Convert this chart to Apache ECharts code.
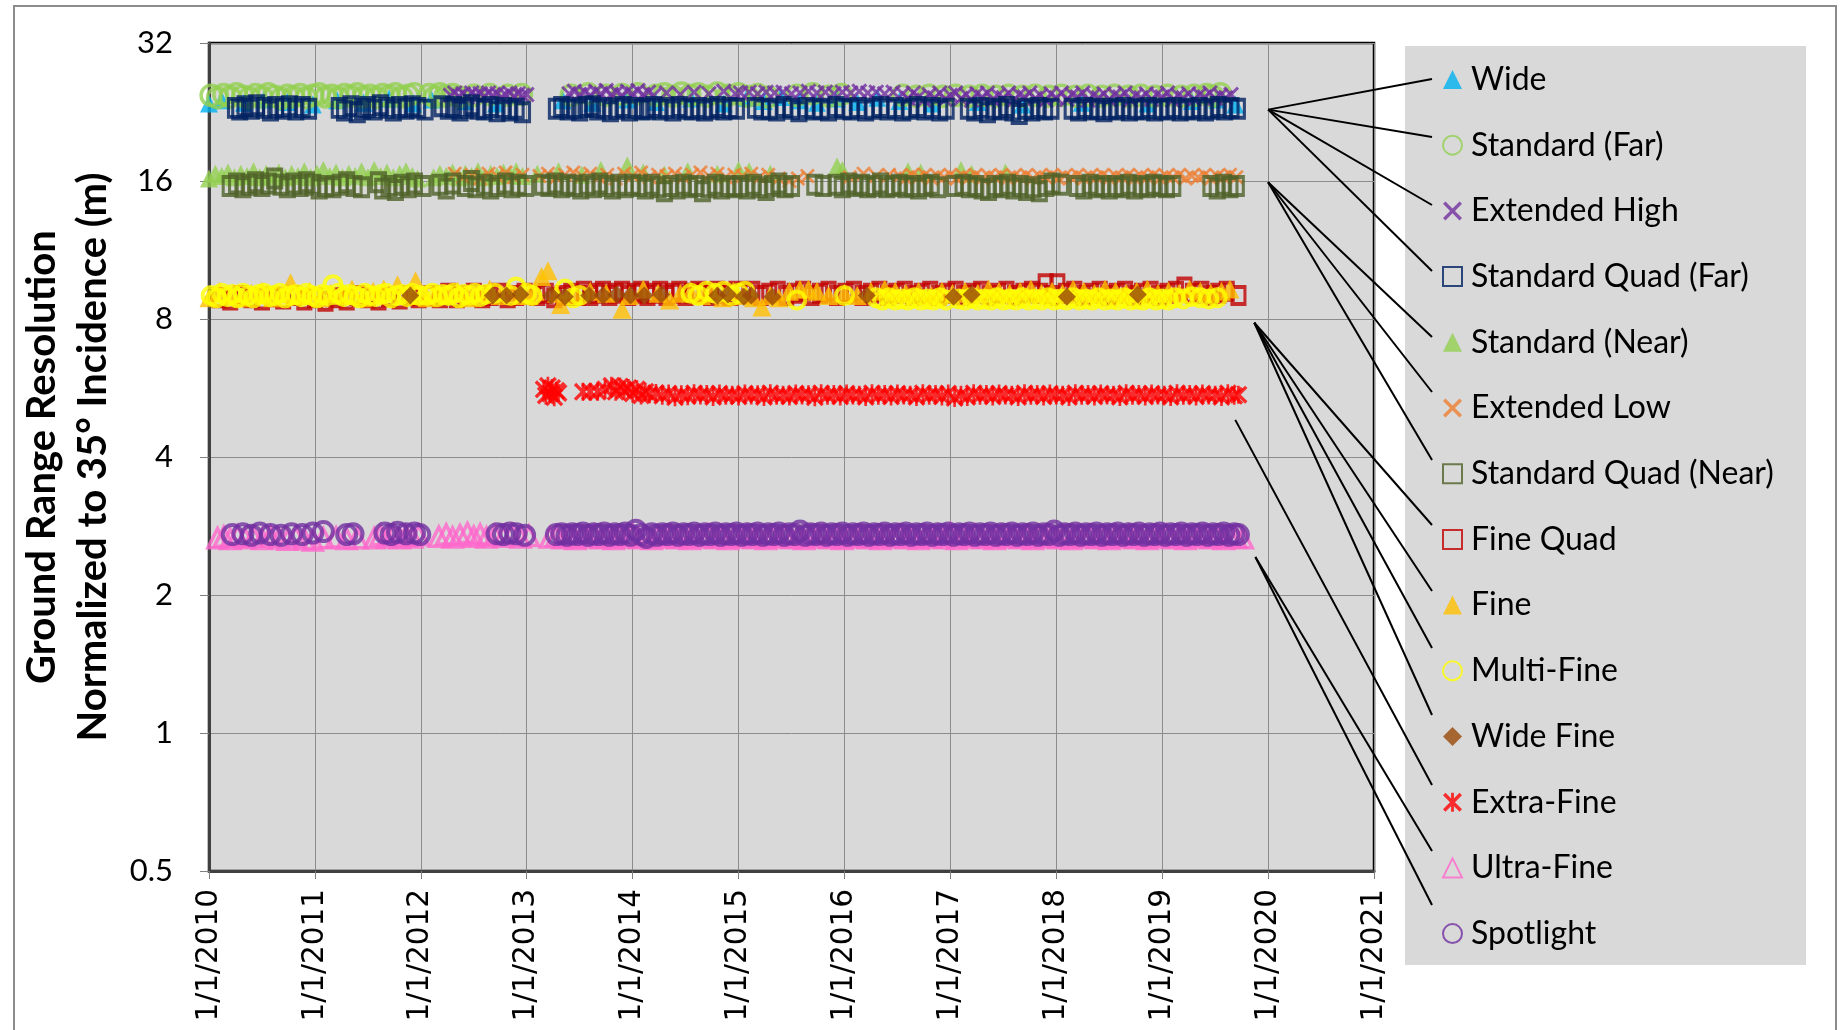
<!DOCTYPE html>
<html>
<head>
<meta charset="utf-8">
<title>Ground range resolution by beam mode</title>
<script src="https://cdn.jsdelivr.net/npm/echarts@6/dist/echarts.min.js"></script>
<style>
  html, body { margin: 0; padding: 0; background: #fff; }
  #chart { width: 1845px; height: 1030px; }
</style>
</head>
<body>
<div id="chart"></div>
<script>
// [decimal year, resolution (m)]
const wide = [[2010.00,23.6],[2010.12,24.0],[2010.33,23.7],[2010.52,24.1],[2010.74,23.8],[2010.98,23.5],[2011.21,24.0],[2011.46,23.7],[2011.70,24.2],[2011.93,23.6],[2012.10,24.1],[2012.42,23.9],[2012.71,23.6],[2013.34,24.0],[2013.62,23.7],[2013.95,24.1],[2014.22,23.8],[2014.55,24.2],[2014.86,23.6],[2015.08,24.3],[2015.24,23.9],[2015.40,24.4],[2015.58,24.0],[2015.74,23.7],[2015.93,24.2],[2016.12,23.8],[2016.31,24.3],[2016.52,23.9],[2016.83,23.6],[2017.26,23.8],[2017.68,23.5],[2018.24,23.7],[2018.86,23.6],[2019.28,23.9],[2019.52,24.1],[2019.69,23.5]]

const standardFar = [[2010.02,24.6],[2010.08,24.3],[2010.14,24.7],[2010.20,24.4],[2010.26,24.8],[2010.32,24.5],[2010.38,24.3],[2010.44,24.7],[2010.50,24.4],[2010.56,24.8],[2010.62,24.5],[2010.68,24.2],[2010.74,24.6],[2010.80,24.4],[2010.86,24.7],[2010.92,24.3],[2010.98,24.6],[2011.04,24.8],[2011.10,24.4],[2011.16,24.6],[2011.22,24.3],[2011.28,24.7],[2011.34,24.5],[2011.40,24.8],[2011.46,24.4],[2011.52,24.6],[2011.58,24.3],[2011.64,24.7],[2011.70,24.5],[2011.76,24.8],[2011.82,24.4],[2011.88,24.6],[2011.94,24.8],
  [2012.08,24.7],[2012.13,24.4],[2012.18,24.8],[2012.23,24.5],[2012.30,24.7],[2012.36,24.4],[2012.50,24.6],[2012.65,24.7],[2012.82,24.6],[2012.95,24.7],
  [2013.42,24.6],[2013.58,24.8],[2013.75,24.6],[2013.90,24.7],[2014.05,24.8],[2014.22,24.6],[2014.30,24.8],[2014.38,24.5],[2014.46,24.9],[2014.54,24.6],[2014.62,24.8],[2014.70,24.5],[2014.80,24.9],[2014.90,24.6],[2015.00,24.8],[2015.08,24.5],[2015.18,24.7],[2015.28,24.4],[2015.55,24.6],[2015.70,24.8],[2015.85,24.5],[2015.97,24.7],
  [2016.55,24.6],[2016.68,24.5],[2016.80,24.6],[2016.93,24.5],[2017.05,24.6],[2017.18,24.5],[2017.30,24.6],[2017.43,24.5],[2017.55,24.6],[2017.68,24.5],[2017.80,24.6],[2017.93,24.5],[2018.05,24.6],[2018.18,24.5],[2018.30,24.6],[2018.43,24.5],[2018.55,24.6],[2018.68,24.5],[2018.80,24.6],[2018.93,24.5],[2019.05,24.6],[2019.18,24.5],[2019.30,24.6],[2019.42,24.7],[2019.48,24.5],[2019.55,24.8]]

const extendedHigh = [[2012.28,24.6],[2012.32,24.9],[2012.36,24.5],[2012.40,24.8],[2012.44,24.4],[2012.48,24.9],[2012.52,24.6],[2012.56,24.8],[2012.60,24.5],[2012.64,24.9],[2012.68,24.6],[2012.72,24.8],[2012.76,24.4],[2012.80,24.7],[2012.84,24.9],[2012.88,24.5],[2012.92,24.8],[2012.96,24.6],[2013.00,24.7],
  [2013.40,24.8],[2013.45,25.1],[2013.50,24.7],[2013.55,25.0],[2013.60,24.6],[2013.65,25.1],[2013.70,24.8],[2013.75,25.2],[2013.80,24.7],[2013.85,25.0],[2013.90,24.6],[2013.95,25.1],[2014.00,24.8],[2014.05,25.2],[2014.10,24.7],[2014.15,25.0],[2014.20,24.6],
  [2014.32,24.9],[2014.45,24.7],[2014.58,25.0],[2014.72,24.8],[2014.86,25.1],[2014.97,24.8],
  [2015.02,24.9],[2015.10,25.0],[2015.18,24.8],[2015.26,25.0],[2015.34,24.9],[2015.42,25.0],[2015.50,24.8],[2015.58,24.9],[2015.66,25.1],[2015.74,24.9],[2015.82,25.0],[2015.90,24.8],[2015.98,25.0],[2016.06,24.9],[2016.14,25.1],[2016.22,24.9],[2016.30,25.0],[2016.38,24.8],[2016.46,25.0],
  [2016.55,24.8],[2016.60,24.2],[2016.65,24.9],[2016.70,24.4],[2016.75,24.0],[2016.80,24.7],[2016.85,24.3],[2016.90,24.9],[2016.95,24.1],[2017.00,24.6],[2017.05,24.9],[2017.10,24.2],[2017.15,24.7],[2017.20,24.0],[2017.25,24.8],[2017.30,24.4],[2017.35,24.9],[2017.40,24.1],[2017.45,24.6],[2017.50,24.3],[2017.55,24.9],[2017.60,24.0],[2017.65,24.7],[2017.70,24.4],[2017.75,24.9],[2017.80,24.2],[2017.85,24.6],[2017.90,24.0],[2017.95,24.8],[2018.00,24.3],[2018.05,24.9],[2018.10,24.1],[2018.15,24.7],[2018.20,24.4],[2018.25,24.9],[2018.30,24.0],[2018.35,24.6],[2018.40,24.3],[2018.45,24.8],[2018.50,24.1],[2018.55,24.7],[2018.60,24.4],[2018.65,24.9],[2018.70,24.0],[2018.75,24.6],[2018.80,24.3],[2018.85,24.8],[2018.90,24.1],[2018.95,24.7],[2019.00,24.4],[2019.05,24.9],[2019.10,24.0],[2019.15,24.6],[2019.20,24.3],[2019.25,24.8],[2019.30,24.1],[2019.35,24.7],[2019.40,24.4],[2019.45,24.9],[2019.50,24.2],[2019.55,24.6],[2019.60,24.3],[2019.65,24.7]]

const standardQuadFar = [[2010.25,23.1],[2010.29,22.9],[2010.34,23.3],[2010.40,23.0],[2010.45,23.4],[2010.52,23.1],[2010.58,22.8],[2010.63,23.2],[2010.70,23.0],[2010.76,23.3],[2010.82,22.9],[2010.88,23.2],[2010.94,23.0],
  [2011.23,23.1],[2011.28,22.8],[2011.34,23.3],[2011.40,22.6],[2011.45,23.0],[2011.50,23.2],[2011.56,22.9],[2011.62,23.4],[2011.68,23.1],[2011.74,22.8],[2011.80,23.2],[2011.86,23.0],[2011.92,23.3],[2011.97,23.1],[2012.04,22.9],
  [2012.20,23.3],[2012.26,23.0],[2012.31,23.2],[2012.37,22.8],[2012.42,23.1],[2012.48,23.4],[2012.54,23.0],[2012.60,22.9],[2012.66,23.2],[2012.72,22.7],[2012.78,23.1],[2012.84,22.8],[2012.90,23.0],[2012.96,22.6],
  [2013.28,23.0],[2013.33,23.2],[2013.39,22.9],[2013.45,23.1],[2013.50,22.8],[2013.56,23.2],[2013.62,23.3],[2013.67,22.9],[2013.73,23.1],[2013.79,22.7],[2013.85,23.0],[2013.91,23.2],[2013.97,22.8],[2014.03,23.1],[2014.09,22.9],[2014.14,23.0],
  [2014.20,23.2],[2014.26,22.9],[2014.32,23.1],[2014.38,22.8],[2014.44,23.2],[2014.50,23.0],[2014.56,22.9],[2014.62,23.1],[2014.68,22.8],[2014.74,23.0],[2014.80,23.2],[2014.86,22.9],[2014.92,23.1],[2014.98,23.0],
  [2015.16,23.1],[2015.22,22.9],[2015.29,23.0],[2015.36,22.8],[2015.43,23.2],[2015.50,23.0],[2015.57,22.7],[2015.64,23.1],[2015.71,22.9],[2015.78,23.0],[2015.85,22.8],[2015.92,23.2],[2015.99,23.0],[2016.06,22.9],[2016.13,23.1],[2016.20,22.8],[2016.27,23.0],[2016.34,23.2],[2016.41,22.9],[2016.48,23.1],[2016.55,22.8],[2016.62,23.0],[2016.69,23.2],[2016.76,22.9],[2016.83,23.1],[2016.90,22.8],[2016.96,23.0],
  [2017.17,23.0],[2017.23,22.8],[2017.29,23.1],[2017.35,22.6],[2017.41,23.0],[2017.47,22.9],[2017.53,23.2],[2017.59,22.8],[2017.65,22.4],[2017.71,23.0],[2017.77,22.8],[2017.83,23.1],[2017.89,22.9],[2017.95,23.0],
  [2018.15,23.0],[2018.21,22.8],[2018.27,23.1],[2018.33,22.9],[2018.39,23.0],[2018.45,22.7],[2018.51,23.0],[2018.57,22.9],[2018.63,23.1],[2018.69,22.8],[2018.75,23.0],[2018.81,22.9],[2018.87,23.1],[2018.93,22.8],[2018.99,23.0],[2019.05,22.9],[2019.11,23.1],[2019.17,22.8],[2019.23,23.0],[2019.29,22.9],[2019.35,23.1],[2019.41,22.8],[2019.47,23.0],[2019.53,23.2],[2019.59,22.9],[2019.65,23.1],[2019.71,23.0]]

const standardNear = [[2010.00,16.2],[2010.06,16.6],[2010.12,16.4],[2010.18,16.7],[2010.24,16.3],[2010.30,16.6],[2010.36,16.4],[2010.42,16.8],[2010.48,16.3],[2010.54,16.6],[2010.60,16.4],[2010.66,16.7],[2010.72,16.3],[2010.78,16.6],[2010.84,16.4],[2010.90,16.8],[2010.96,16.3],[2011.02,16.6],[2011.08,16.9],[2011.14,16.4],[2011.20,16.7],[2011.26,16.3],[2011.32,16.6],[2011.38,16.4],[2011.44,16.8],[2011.50,16.3],[2011.56,16.9],[2011.62,16.4],[2011.68,16.7],[2011.74,16.3],[2011.80,16.6],[2011.86,16.8],[2011.92,16.4],[2011.97,16.2],
  [2012.12,16.3],[2012.18,16.6],[2012.24,16.4],[2012.30,16.7],[2012.36,16.3],[2012.42,16.6],[2012.48,16.4],[2012.54,16.8],[2012.60,16.3],[2012.66,16.6],[2012.72,16.4],[2012.78,16.7],[2012.84,16.5],[2012.90,16.8],[2012.96,16.4],
  [2013.10,16.6],[2013.30,16.8],[2013.52,16.5],[2013.70,16.9],[2013.95,17.3],[2014.10,16.7],[2014.30,16.5],[2014.52,16.8],[2014.80,16.6],[2015.00,16.9],[2015.10,16.8],[2015.30,16.6],[2015.93,17.2],[2015.98,16.9],[2016.60,16.8],[2016.72,16.7],[2017.10,16.9],[2017.20,16.6],[2017.52,16.7]]

const extendedLow = [[2012.32,16.6],[2012.40,16.3],[2012.48,16.5],[2012.56,16.2],[2012.64,16.6],[2012.72,16.4],[2012.80,16.7],[2012.88,16.3],[2012.96,16.5],
  [2013.12,16.4],[2013.20,16.6],[2013.28,16.3],[2013.36,16.5],[2013.44,16.7],[2013.52,16.4],[2013.60,16.6],[2013.68,16.3],[2013.76,16.5],[2013.84,16.2],[2013.92,16.6],[2014.00,16.4],[2014.08,16.7],[2014.16,16.3],[2014.24,16.5],[2014.32,16.4],[2014.40,16.6],[2014.48,16.3],[2014.56,16.5],[2014.64,16.7],[2014.72,16.4],[2014.80,16.6],[2014.88,16.3],[2014.96,16.5],
  [2015.04,16.4],[2015.12,16.6],[2015.20,16.3],[2015.28,16.5],[2015.38,16.2],[2015.48,16.0],[2015.56,16.2],[2015.65,16.4],[2016.05,16.3],[2016.18,16.6],[2016.30,16.4],[2016.42,16.5],
  [2016.52,16.4],[2016.58,16.2],[2016.64,16.5],[2016.70,16.3],[2016.76,16.5],[2016.82,16.2],[2016.88,16.4],[2016.94,16.3],[2017.00,16.5],[2017.06,16.2],[2017.12,16.4],[2017.18,16.3],[2017.24,16.5],[2017.30,16.2],[2017.36,16.4],[2017.42,16.3],[2017.48,16.5],[2017.54,16.2],[2017.60,16.4],[2017.66,16.3],[2017.72,16.5],[2017.78,16.2],[2017.84,16.4],[2017.90,16.3],[2017.96,16.5],[2018.02,16.2],[2018.08,16.4],[2018.14,16.3],[2018.20,16.5],[2018.26,16.2],[2018.32,16.4],[2018.38,16.3],[2018.44,16.5],[2018.50,16.2],[2018.56,16.4],[2018.62,16.3],[2018.68,16.5],[2018.74,16.2],[2018.80,16.4],[2018.86,16.3],[2018.92,16.5],[2018.98,16.2],[2019.04,16.4],[2019.10,16.3],[2019.16,16.5],[2019.22,16.2],[2019.28,16.4],[2019.34,16.3],[2019.40,16.5],[2019.46,16.2],[2019.52,16.4],[2019.58,16.3],[2019.64,16.5],[2019.70,16.3]]

const standardQuadNear = [[2010.20,15.6],[2010.26,15.8],[2010.32,15.5],[2010.38,15.7],[2010.44,15.9],[2010.50,15.6],[2010.56,15.8],[2010.62,16.2],[2010.68,15.7],[2010.74,15.5],[2010.80,15.8],[2010.86,15.6],[2010.92,15.9],[2010.98,15.7],[2011.04,15.4],[2011.10,15.6],
  [2011.17,15.5],[2011.24,15.7],[2011.30,15.9],[2011.37,15.6],[2011.44,15.5],
  [2011.60,15.9],[2011.64,15.4],[2011.70,15.6],[2011.76,15.3],[2011.82,15.7],[2011.88,15.5],[2011.94,15.8],[2012.02,15.6],
  [2012.18,15.7],[2012.24,15.4],[2012.30,15.8],[2012.42,15.6],[2012.48,16.0],[2012.52,15.5],[2012.60,15.7],[2012.66,15.4],[2012.72,15.6],[2012.80,15.8],[2012.86,15.5],[2012.92,15.7],[2012.99,15.6],
  [2013.15,15.7],[2013.21,15.6],[2013.27,15.8],[2013.33,15.5],[2013.39,15.7],[2013.45,15.6],[2013.51,15.4],[2013.57,15.7],[2013.63,15.5],[2013.69,15.8],[2013.75,15.6],[2013.81,15.4],[2013.87,15.7],[2013.93,15.5],[2014.00,15.7],[2014.06,15.6],[2014.12,15.4],[2014.18,15.7],[2014.24,15.5],[2014.30,15.2],[2014.36,15.6],[2014.42,15.4],[2014.48,15.7],[2014.54,15.5],[2014.60,15.6],[2014.66,15.2],[2014.72,15.5],[2014.78,15.7],[2014.84,15.4],[2014.90,15.6],[2014.96,15.5],
  [2015.02,15.6],[2015.08,15.4],[2015.14,15.7],[2015.20,15.5],[2015.26,15.3],[2015.32,15.6],[2015.38,15.8],[2015.44,15.5],[2015.50,15.6],[2015.72,15.7],[2015.80,15.6],
  [2015.92,15.7],[2015.98,15.5],[2016.04,15.8],[2016.10,15.6],[2016.16,15.7],[2016.22,15.5],[2016.28,15.6],[2016.34,15.8],[2016.40,15.5],[2016.46,15.6],[2016.52,15.7],[2016.58,15.5],[2016.64,15.6],[2016.70,15.4],[2016.76,15.6],[2016.82,15.7],[2016.88,15.5],
  [2017.04,15.6],[2017.12,15.7],[2017.18,15.5],[2017.24,15.6],[2017.30,15.4],[2017.36,15.3],[2017.42,15.6],[2017.48,15.5],[2017.54,15.7],[2017.60,15.4],[2017.66,15.6],[2017.72,15.3],[2017.78,15.5],[2017.84,15.2],[2017.90,15.6],[2017.96,15.8],[2018.04,15.7],
  [2018.20,15.6],[2018.26,15.4],[2018.32,15.7],[2018.38,15.5],[2018.44,15.6],[2018.50,15.4],[2018.56,15.6],[2018.62,15.5],[2018.68,15.7],[2018.74,15.4],[2018.80,15.6],[2018.86,15.5],[2018.92,15.7],[2018.98,15.6],[2019.04,15.5],[2019.10,15.6],
  [2019.46,15.6],[2019.52,15.4],[2019.58,15.7],[2019.64,15.5],[2019.70,15.6]]

const fineQuad = [[2010.10,8.9],[2010.20,8.8],[2010.30,9.0],[2010.40,8.9],[2010.50,8.8],[2010.60,8.95],[2010.70,8.85],[2010.80,9.0],[2010.90,8.8],[2011.00,8.9],[2011.10,8.75],[2011.20,8.9],[2011.30,8.8],[2011.40,9.0],[2011.50,8.9],[2011.60,8.8],[2011.70,8.95],[2011.80,8.85],[2011.90,9.0],[2011.98,8.9],
  [2012.10,9.0],[2012.18,8.9],[2012.26,9.1],[2012.34,8.9],[2012.42,9.0],[2012.50,9.1],[2012.58,8.9],[2012.66,9.0],[2012.74,9.1],[2012.82,8.9],[2012.90,9.0],[2012.98,9.1],
  [2013.10,9.0],[2013.18,9.1],[2013.26,8.9],[2013.34,9.0],[2013.42,9.1],[2013.48,9.0],[2013.54,9.2],[2013.60,9.0],[2013.66,9.1],[2013.72,9.2],[2013.78,9.0],[2013.84,9.1],[2013.90,9.2],[2013.96,9.0],[2014.02,9.1],[2014.08,9.2],[2014.14,9.0],[2014.20,9.1],[2014.26,9.2],[2014.32,9.0],[2014.38,9.1],[2014.44,9.2],[2014.50,9.0],[2014.56,9.1],[2014.62,9.2],[2014.68,9.1],[2014.74,9.0],[2014.80,9.2],[2014.86,9.1],[2014.92,9.0],[2014.98,9.2],
  [2015.05,9.1],[2015.13,9.2],[2015.21,9.0],[2015.29,9.1],[2015.37,9.2],[2015.45,9.0],[2015.53,9.1],[2015.61,9.2],[2015.69,9.0],[2015.77,9.1],[2015.85,9.2],[2015.93,9.0],[2016.01,9.1],[2016.09,9.2],[2016.17,9.0],[2016.25,9.1],[2016.33,9.2],[2016.41,9.0],[2016.49,9.1],[2016.57,9.2],[2016.65,9.0],[2016.73,9.1],[2016.81,9.2],[2016.89,9.0],[2016.97,9.1],[2017.05,9.2],[2017.13,9.0],[2017.21,9.1],[2017.29,9.2],[2017.37,9.0],[2017.45,9.1],[2017.53,9.2],[2017.61,9.0],[2017.69,9.1],[2017.77,9.2],[2017.85,9.1],[2017.90,9.55],[2017.96,9.0],[2018.01,9.55],[2018.09,9.1],[2018.17,9.2],[2018.25,9.0],[2018.33,9.1],[2018.41,9.2],[2018.49,9.0],[2018.57,9.1],[2018.65,9.2],[2018.73,9.0],[2018.81,9.1],[2018.89,9.2],[2018.97,9.0],[2019.05,9.1],[2019.13,9.2],[2019.21,9.4],[2019.29,9.1],[2019.37,9.2],[2019.45,9.0],[2019.53,9.1],[2019.61,9.2],[2019.72,9.0]]

const fine = [[2010.00,8.9],[2010.10,9.2],[2010.20,9.0],[2010.30,8.9],[2010.40,9.1],[2010.50,9.2],[2010.60,8.9],[2010.70,9.1],[2010.77,9.6],[2010.85,9.0],[2010.95,9.2],[2011.05,8.9],[2011.15,9.1],[2011.25,9.0],[2011.35,9.3],[2011.45,8.9],[2011.55,9.2],[2011.65,9.3],[2011.78,9.5],[2011.88,9.1],[2011.95,9.7],[2012.00,9.0],
  [2012.06,8.9],[2012.15,9.1],[2012.25,9.0],[2012.35,9.2],[2012.45,8.9],[2012.55,9.1],[2012.65,9.3],[2012.75,9.0],[2012.85,9.1],[2012.95,9.0],
  [2013.02,9.0],[2013.08,9.2],[2013.14,9.9],[2013.20,10.2],[2013.28,9.1],[2013.32,8.6],[2013.45,9.0],[2013.60,9.2],[2013.75,9.1],[2013.90,8.4],[2013.97,9.0],[2014.10,9.3],[2014.24,9.1],[2014.35,8.8],
  [2014.45,9.1],[2014.55,9.2],[2014.65,9.0],[2014.75,9.1],[2014.85,8.9],[2014.95,9.2],[2015.05,9.0],[2015.14,8.9],[2015.22,8.5],[2015.30,9.0],[2015.38,8.9],[2015.48,9.2],[2015.58,9.3],[2015.66,9.3],[2015.74,9.2],[2015.85,9.0],[2016.00,9.1],[2016.12,9.0],[2016.25,9.2],[2016.38,9.3],[2016.48,9.2],[2016.58,9.1],[2016.70,9.2],[2016.82,9.0],[2016.92,9.2],[2017.02,9.1],[2017.14,9.2],[2017.26,9.1],[2017.36,9.3],[2017.46,9.2],[2017.56,9.1],[2017.66,9.2],[2017.76,9.3],[2017.86,9.1],[2017.96,9.2],[2018.06,9.1],[2018.16,9.3],[2018.26,9.2],[2018.36,9.1],[2018.46,9.3],[2018.56,9.2],[2018.66,9.1],[2018.76,9.2],[2018.86,9.3],[2018.96,9.1],[2019.06,9.2],[2019.16,9.1],[2019.26,9.3],[2019.36,9.2],[2019.46,9.1],[2019.56,9.2],[2019.64,9.3]]

const multiFine = [[2010.02,9.0],[2010.07,8.9],[2010.12,9.1],[2010.17,8.95],[2010.22,9.05],[2010.27,8.9],[2010.32,9.1],[2010.37,9.0],[2010.42,8.9],[2010.47,9.05],[2010.52,9.1],[2010.57,8.95],[2010.62,9.0],[2010.67,9.1],[2010.72,8.9],[2010.77,9.0],[2010.82,9.05],[2010.87,8.95],[2010.92,9.1],[2010.97,9.0],[2011.02,8.9],[2011.07,9.05],[2011.12,9.0],[2011.17,9.5],[2011.22,9.1],[2011.27,8.95],[2011.32,9.05],[2011.37,9.0],[2011.42,8.9],[2011.47,9.1],[2011.52,9.0],[2011.57,8.95],[2011.62,9.05],[2011.67,9.1],[2011.72,8.9],[2011.77,9.0],[2011.82,9.05],[2011.87,8.95],[2011.92,9.1],[2011.98,9.0],
  [2012.06,9.0],[2012.11,9.1],[2012.16,8.95],[2012.21,9.05],[2012.26,9.0],[2012.31,9.1],[2012.36,8.9],[2012.41,9.05],[2012.46,9.0],[2012.51,9.1],[2012.56,8.95],[2012.61,9.05],[2012.70,9.1],[2012.85,9.0],[2012.90,9.4],[2013.00,9.1],[2013.05,9.0],
  [2013.36,9.3],[2013.44,8.9],[2013.50,9.0],
  [2014.55,9.1],[2014.62,9.0],[2014.70,9.2],[2014.78,9.1],[2014.86,9.2],[2014.94,9.0],[2015.00,9.1],[2015.06,9.2],
  [2015.55,8.8],[2016.00,9.0],[2016.30,8.9],[2016.36,8.8],[2016.42,8.9],[2016.48,8.8],[2016.54,8.85],[2016.60,8.8],[2016.66,8.9],[2016.72,8.8],[2016.78,8.85],[2016.84,8.8],[2016.90,8.9],[2016.96,8.8],[2017.08,8.85],[2017.14,8.8],[2017.20,8.9],[2017.26,8.8],[2017.32,8.85],[2017.38,8.8],[2017.44,8.9],[2017.50,8.8],[2017.56,8.85],[2017.62,8.8],[2017.68,8.9],[2017.74,8.8],[2017.80,8.85],[2017.86,8.8],[2017.92,8.9],[2017.98,8.8],[2018.04,8.85],[2018.10,8.8],[2018.16,8.9],[2018.22,8.8],[2018.28,8.85],[2018.34,8.8],[2018.40,8.9],[2018.46,8.8],[2018.52,8.85],[2018.58,8.8],[2018.64,8.9],[2018.70,8.8],[2018.76,8.85],[2018.82,8.8],[2018.88,8.9],[2018.94,8.8],[2019.00,8.85],[2019.06,8.8],[2019.12,8.9],[2019.20,8.85],[2019.28,8.95],[2019.36,8.9],[2019.44,8.85],[2019.52,8.9]]

const wideFine = [[2011.90,9.0],[2012.68,9.0],[2012.81,9.0],[2012.94,9.05],[2013.23,9.0],[2013.36,8.95],[2013.59,9.0],[2013.72,9.0],[2013.85,9.05],[2013.98,9.0],[2014.11,9.0],[2014.27,9.05],[2014.80,9.0],[2014.90,9.05],[2015.05,8.95],[2015.12,9.0],[2015.32,8.95],[2016.21,9.0],[2017.03,8.95],[2017.20,9.05],[2018.10,8.95],[2018.77,9.05]]

const extraFine = [[2013.16,5.62],[2013.18,5.45],[2013.20,5.72],[2013.22,5.50],[2013.24,5.66],[2013.26,5.40],[2013.28,5.58],[2013.30,5.52],[2013.53,5.55],[2013.60,5.55],[2013.67,5.55],[2013.74,5.62],[2013.80,5.72],[2013.84,5.55],[2013.88,5.70],[2013.92,5.58],[2013.96,5.66],[2014.00,5.50],[2014.04,5.62],[2014.08,5.45],[2014.12,5.55],[2014.16,5.48],
  [2014.22,5.52],[2014.28,5.44],[2014.34,5.50],[2014.40,5.40],[2014.46,5.48],[2014.52,5.43],[2014.58,5.51],[2014.64,5.45],[2014.70,5.49],[2014.76,5.41],[2014.82,5.50],[2014.88,5.44],[2014.94,5.47],[2015.00,5.42],[2015.06,5.50],[2015.12,5.45],[2015.18,5.48],[2015.24,5.41],[2015.30,5.51],[2015.36,5.44],[2015.42,5.47],[2015.48,5.42],[2015.54,5.50],[2015.60,5.45],[2015.66,5.48],[2015.72,5.40],[2015.78,5.51],[2015.84,5.44],[2015.90,5.49],[2015.96,5.42],[2016.02,5.50],[2016.08,5.45],[2016.14,5.47],[2016.20,5.41],[2016.26,5.51],[2016.32,5.44],[2016.38,5.49],[2016.44,5.42],[2016.50,5.50],[2016.56,5.45],[2016.62,5.47],[2016.68,5.41],[2016.74,5.51],[2016.80,5.44],[2016.86,5.49],[2016.92,5.42],[2016.98,5.50],[2017.04,5.38],[2017.10,5.47],[2017.16,5.41],[2017.22,5.51],[2017.28,5.44],[2017.34,5.49],[2017.40,5.42],[2017.46,5.50],[2017.52,5.45],[2017.58,5.47],[2017.64,5.41],[2017.70,5.51],[2017.76,5.44],[2017.82,5.49],[2017.88,5.42],[2017.94,5.50],[2018.00,5.45],[2018.06,5.47],[2018.12,5.41],[2018.18,5.51],[2018.24,5.44],[2018.30,5.49],[2018.36,5.42],[2018.42,5.50],[2018.48,5.45],[2018.54,5.47],[2018.60,5.41],[2018.66,5.51],[2018.72,5.44],[2018.78,5.49],[2018.84,5.42],[2018.90,5.50],[2018.96,5.45],[2019.02,5.47],[2019.08,5.41],[2019.14,5.51],[2019.20,5.44],[2019.26,5.49],[2019.32,5.42],[2019.38,5.50],[2019.44,5.45],[2019.50,5.47],[2019.56,5.41],[2019.62,5.51],[2019.68,5.44],[2019.72,5.47]]

const ultraFine = [[2010.08,2.66],[2010.14,2.68],[2010.20,2.65],[2010.27,2.69],[2010.34,2.66],[2010.42,2.68],[2010.50,2.65],[2010.58,2.69],[2010.66,2.66],[2010.74,2.64],[2010.82,2.68],[2010.90,2.65],[2010.98,2.63],[2011.08,2.66],[2011.20,2.67],[2011.30,2.65],[2011.40,2.66],
  [2011.56,2.66],[2011.62,2.70],[2011.68,2.67],[2011.74,2.71],[2011.80,2.66],[2011.86,2.69],[2011.92,2.67],[2011.98,2.70],
  [2012.17,2.68],[2012.24,2.71],[2012.30,2.67],[2012.37,2.70],[2012.44,2.73],[2012.50,2.68],[2012.56,2.71],[2012.62,2.67],[2012.70,2.70],[2012.78,2.68],[2012.86,2.71],[2012.94,2.67],[2013.02,2.69],
  [2013.22,2.67],[2013.28,2.69],[2013.34,2.66],[2013.40,2.68],[2013.46,2.65],[2013.52,2.69],[2013.58,2.67],[2013.64,2.70],[2013.70,2.66],[2013.76,2.68],[2013.82,2.65],[2013.88,2.69],[2013.94,2.67],[2014.00,2.71],[2014.06,2.66],[2014.12,2.68],[2014.18,2.65],[2014.24,2.69],[2014.30,2.67],[2014.36,2.70],[2014.42,2.66],[2014.48,2.68],[2014.54,2.65],[2014.60,2.69],[2014.66,2.67],[2014.72,2.70],[2014.78,2.66],[2014.84,2.68],[2014.90,2.65],[2014.96,2.69],[2015.02,2.67],[2015.08,2.70],[2015.14,2.66],[2015.20,2.68],[2015.26,2.65],[2015.32,2.69],[2015.38,2.67],[2015.44,2.70],[2015.50,2.66],[2015.56,2.68],[2015.62,2.65],[2015.68,2.69],[2015.74,2.67],[2015.80,2.70],[2015.86,2.66],[2015.92,2.68],[2015.98,2.65],[2016.04,2.69],[2016.10,2.67],[2016.16,2.70],[2016.22,2.66],[2016.28,2.68],[2016.34,2.65],[2016.40,2.69],[2016.46,2.67],[2016.52,2.70],[2016.58,2.66],[2016.64,2.68],[2016.70,2.65],[2016.76,2.69],[2016.82,2.67],[2016.88,2.70],[2016.94,2.66],[2017.00,2.72],[2017.06,2.65],[2017.12,2.69],[2017.18,2.67],[2017.24,2.70],[2017.30,2.66],[2017.36,2.68],[2017.42,2.65],[2017.48,2.69],[2017.54,2.67],[2017.60,2.70],[2017.66,2.66],[2017.72,2.68],[2017.78,2.65],[2017.84,2.69],[2017.90,2.67],[2017.96,2.70],[2018.02,2.66],[2018.08,2.68],[2018.14,2.65],[2018.20,2.69],[2018.26,2.67],[2018.32,2.70],[2018.38,2.66],[2018.44,2.68],[2018.50,2.65],[2018.56,2.69],[2018.62,2.67],[2018.68,2.70],[2018.74,2.66],[2018.80,2.68],[2018.86,2.65],[2018.92,2.69],[2018.98,2.67],[2019.04,2.70],[2019.10,2.66],[2019.16,2.68],[2019.22,2.65],[2019.28,2.69],[2019.34,2.67],[2019.40,2.70],[2019.46,2.66],[2019.52,2.68],[2019.58,2.65],[2019.64,2.69],[2019.70,2.67],[2019.76,2.66]]

const spotlight = [[2010.22,2.71],[2010.32,2.72],[2010.40,2.70],[2010.48,2.73],[2010.58,2.71],[2010.68,2.70],[2010.78,2.72],[2010.88,2.71],[2010.98,2.73],[2011.08,2.75],[2011.30,2.71],[2011.36,2.72],
  [2011.66,2.73],[2011.72,2.71],[2011.78,2.74],[2011.86,2.72],[2011.94,2.73],[2011.99,2.71],
  [2012.72,2.72],[2012.78,2.71],[2012.84,2.73],[2012.90,2.72],[2012.98,2.70],
  [2013.28,2.71],[2013.33,2.72],[2013.38,2.70],[2013.43,2.72],[2013.48,2.71],[2013.53,2.73],[2013.58,2.70],[2013.63,2.72],[2013.68,2.71],[2013.73,2.73],[2013.78,2.70],[2013.83,2.72],[2013.88,2.71],[2013.93,2.73],[2013.98,2.70],[2014.03,2.77],[2014.08,2.71],[2014.13,2.67],[2014.18,2.72],[2014.23,2.70],[2014.28,2.72],[2014.33,2.71],[2014.38,2.73],[2014.43,2.70],[2014.48,2.72],[2014.53,2.71],[2014.58,2.73],[2014.63,2.70],[2014.68,2.72],[2014.73,2.71],[2014.78,2.73],[2014.83,2.70],[2014.88,2.72],[2014.93,2.71],[2014.98,2.73],[2015.03,2.70],[2015.08,2.72],[2015.13,2.71],[2015.18,2.73],[2015.23,2.70],[2015.28,2.72],[2015.33,2.71],[2015.38,2.73],[2015.43,2.70],[2015.48,2.72],[2015.53,2.71],[2015.58,2.76],[2015.63,2.70],[2015.68,2.72],[2015.73,2.71],[2015.78,2.73],[2015.83,2.70],[2015.88,2.72],[2015.93,2.71],[2015.98,2.73],[2016.03,2.70],[2016.08,2.72],[2016.13,2.71],[2016.18,2.73],[2016.23,2.70],[2016.28,2.72],[2016.33,2.71],[2016.38,2.73],[2016.43,2.70],[2016.48,2.72],[2016.53,2.71],[2016.58,2.73],[2016.63,2.70],[2016.68,2.72],[2016.73,2.71],[2016.78,2.73],[2016.83,2.70],[2016.88,2.72],[2016.93,2.71],[2016.98,2.73],[2017.03,2.70],[2017.08,2.72],[2017.13,2.71],[2017.18,2.73],[2017.23,2.70],[2017.28,2.72],[2017.33,2.71],[2017.38,2.73],[2017.43,2.70],[2017.48,2.72],[2017.53,2.71],[2017.58,2.73],[2017.63,2.70],[2017.68,2.72],[2017.73,2.71],[2017.78,2.73],[2017.83,2.70],[2017.88,2.72],[2017.93,2.71],[2017.98,2.76],[2018.03,2.70],[2018.08,2.72],[2018.13,2.71],[2018.18,2.73],[2018.23,2.70],[2018.28,2.72],[2018.33,2.71],[2018.38,2.73],[2018.43,2.70],[2018.48,2.72],[2018.53,2.71],[2018.58,2.73],[2018.63,2.70],[2018.68,2.72],[2018.73,2.71],[2018.78,2.73],[2018.83,2.70],[2018.88,2.72],[2018.93,2.71],[2018.98,2.73],[2019.03,2.70],[2019.08,2.72],[2019.13,2.71],[2019.18,2.73],[2019.23,2.70],[2019.28,2.72],[2019.33,2.71],[2019.38,2.73],[2019.43,2.70],[2019.48,2.72],[2019.53,2.71],[2019.58,2.73],[2019.63,2.70],[2019.68,2.72],[2019.72,2.71]]

// callout lines: where each fan starts (data coords) and which legend row each line reaches
const leaderOrigins = [[2020, 22.9], [2020, 15.9], [2019.87, 7.85], [2019.69, 4.82], [2019.88, 2.42]]
const leaderOriginOfRow = [0, 0, 0, 0, 1, 1, 1, 2, 2, 2, 2, 3, 4, 4]
const leaderEndX = 1432
const leaderEndY = [79, 137, 205, 271, 337, 392, 460, 525, 591, 648, 715, 785, 851, 905]

const xPath = 'path://M0,1.3L1.3,0L5,3.7L8.7,0L10,1.3L6.3,5L10,8.7L8.7,10L5,6.3L1.3,10L0,8.7L3.7,5Z'
const starPath = xPath + 'M4.25,0L5.75,0L5.75,10L4.25,10Z'

// name, data, symbol, size, colour, hollow border width (0 = filled)
const defs = [
  ['Wide', wide, 'triangle', 18, '#00B0F0', 0],
  ['Standard (Far)', standardFar, 'circle', 20, '#92D050', 3.5],
  ['Extended High', extendedHigh, xPath, 16, '#7030A0', 0],
  ['Standard Quad (Far)', standardQuadFar, 'rect', [14, 18], '#002060', 3.5],
  ['Standard (Near)', standardNear, 'triangle', 18, '#92D050', 0],
  ['Extended Low', extendedLow, xPath, 15, '#ED7D31', 0],
  ['Standard Quad (Near)', standardQuadNear, 'rect', [14, 18], '#4F6228', 3.5],
  ['Fine Quad', fineQuad, 'rect', [13, 17], '#C00000', 3.5],
  ['Fine', fine, 'triangle', 19, '#FFC000', 0],
  ['Multi-Fine', multiFine, 'circle', 17, '#FFFF00', 4],
  ['Wide Fine', wideFine, 'diamond', 18, '#984807', 0],
  ['Extra-Fine', extraFine, starPath, 18, '#FF0000', 0],
  ['Ultra-Fine', ultraFine, 'triangle', 19, '#FF66CC', 3.5],
  ['Spotlight', spotlight, 'circle', 19, '#7030A0', 4]
]

const series = defs.map(d => ({
  name: d[0],
  type: 'scatter',
  data: d[1],
  symbol: d[2],
  symbolSize: d[3],
  itemStyle: d[5]
    ? { color: 'rgba(0,0,0,0)', borderColor: d[4], borderWidth: d[5] }
    : { color: d[4] },
  emphasis: { disabled: true }
}))

const chart = echarts.init(document.getElementById('chart'))
chart.setOption({
  animation: false,
  grid: {
    left: 209, top: 43, width: 1165, height: 828,
    show: true,
    backgroundColor: '#D9D9D9',
    borderColor: '#000',
    borderWidth: 2.5
  },
  xAxis: {
    type: 'value',
    min: 2010,
    max: 2021,
    interval: 1,
    axisLine: { lineStyle: { color: '#404040', width: 3 } },
    axisTick: { length: 8, lineStyle: { color: '#808080' } },
    splitLine: { show: true, lineStyle: { color: '#8C8C8C', width: 1 } },
    axisLabel: {
      rotate: 90,
      margin: 18,
      color: '#000',
      fontFamily: 'DejaVu Sans',
      fontSize: 29.5,
      formatter: v => '1/1/' + v
    }
  },
  yAxis: {
    type: 'log',
    logBase: 2,
    min: 0.5,
    max: 32,
    interval: 1,
    name: 'Ground Range Resolution\nNormalized to 35° Incidence (m)',
    nameLocation: 'middle',
    nameRotate: 90,
    nameGap: 85,
    nameTextStyle: {
      fontFamily: 'Lato',
      fontWeight: 'bold',
      fontSize: 40,
      lineHeight: 51,
      color: '#000'
    },
    axisLine: { show: true, lineStyle: { color: '#404040', width: 3 } },
    axisTick: { show: true, length: 9, lineStyle: { color: '#808080' } },
    splitLine: { show: true, lineStyle: { color: '#8C8C8C', width: 1 } },
    axisLabel: {
      margin: 36,
      color: '#000',
      fontFamily: 'Lato',
      fontSize: 31,
      formatter: v => String(+v.toFixed(2))
    }
  },
  legend: {
    orient: 'vertical',
    left: 1437,
    top: 58.5,
    itemWidth: 19,
    itemHeight: 19,
    itemGap: 33.7,
    selectedMode: false,
    itemStyle: { borderWidth: 2 },
    textStyle: { fontFamily: 'Lato', fontSize: 32, lineHeight: 32, color: '#000', padding: [0, 0, 0, 4] },
    data: defs.map(d => d[0])
  },
  series: series
})

// frame, legend panel and the callout lines
const graphics = [
  { type: 'rect', z: -1, shape: { x: 14, y: 6, width: 1822, height: 1100 }, style: { fill: 'none', stroke: '#8C8C8C', lineWidth: 2 } },
  { type: 'rect', z: -1, shape: { x: 1405, y: 46, width: 401, height: 919 }, style: { fill: '#D9D9D9' } }
]
const origins = leaderOrigins.map(p => chart.convertToPixel({ gridIndex: 0 }, p))
leaderEndY.forEach((y, i) => {
  const o = origins[leaderOriginOfRow[i]]
  graphics.push({
    type: 'line', z: 100,
    shape: { x1: o[0], y1: o[1], x2: leaderEndX, y2: y },
    style: { stroke: '#000', lineWidth: 2 }
  })
})
chart.setOption({ graphic: graphics })
</script>
</body>
</html>
